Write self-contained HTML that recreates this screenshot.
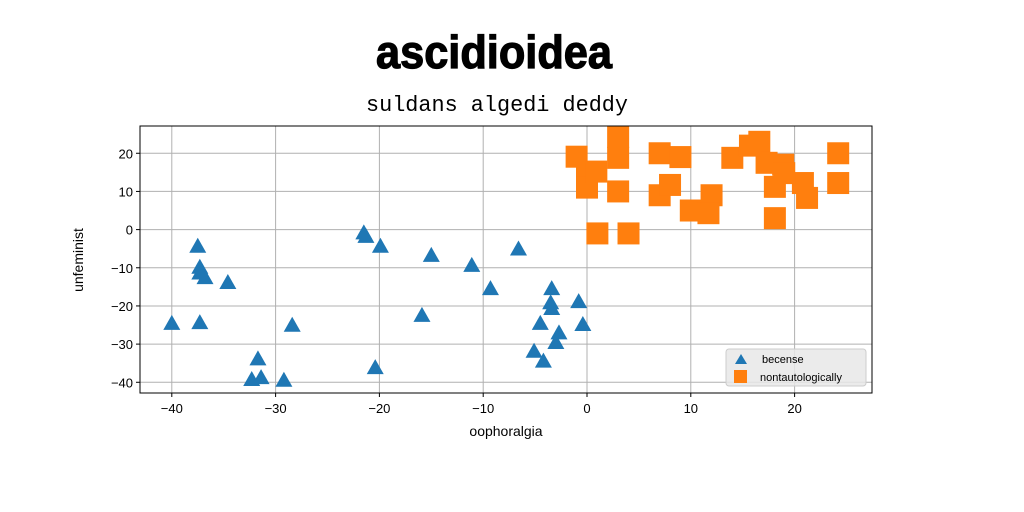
<!DOCTYPE html>
<html><head><meta charset="utf-8"><style>
html,body{margin:0;padding:0;background:#fff;}
svg{display:block;}
</style></head><body>
<svg id="chart" width="1024" height="512" xmlns="http://www.w3.org/2000/svg">
<defs><clipPath id="pc"><rect x="140" y="126" width="732" height="267"/></clipPath></defs>
<text x="494" y="68" font-family="'Liberation Sans Narrow','Liberation Sans',sans-serif" font-weight="bold" font-size="46" stroke="#000" stroke-width="1.2" text-anchor="middle" textLength="236" lengthAdjust="spacingAndGlyphs">ascidioidea</text>
<text x="497" y="111" font-family="'Liberation Mono',monospace" font-size="22" text-anchor="middle" textLength="262" lengthAdjust="spacingAndGlyphs">suldans algedi deddy</text>
<g id="grid"></g>
<g id="marks" clip-path="url(#pc)"></g>
<rect x="140" y="126" width="732" height="267" fill="none" stroke="#000" stroke-width="1"/>
<g id="axes"></g>
<text x="506" y="436" font-family="'Liberation Sans',sans-serif" font-size="14" text-anchor="middle">oophoralgia</text>
<text transform="translate(83,260) rotate(-90)" font-family="'Liberation Sans',sans-serif" font-size="14" text-anchor="middle">unfeminist</text>
<g>
<rect x="726" y="349" width="140" height="37" rx="3" fill="#e8e8e8" fill-opacity="0.85" stroke="#ccc"/>
<polygon points="741,354 747,364 735,364" fill="#1f77b4"/>
<text x="762" y="363" font-family="'Liberation Sans',sans-serif" font-size="11">becense</text>
<rect x="734" y="370" width="13" height="13" fill="#ff7f0e"/>
<text x="760" y="381" font-family="'Liberation Sans',sans-serif" font-size="11">nontautologically</text>
</g>
</svg>
<script>
const xTicks=[-40,-30,-20,-10,0,10,20];
const yTicks=[20,10,0,-10,-20,-30,-40];
const becenseX=[-37.5,-37.3,-37.3,-36.8,-34.6,-40,-37.3,-31.7,-32.3,-31.4,-29.2,-28.4,-21.5,-21.3,-19.9,-20.4,-15,-15.9,-11.1,-9.3,-6.6,-3.4,-3.5,-3.4,-4.5,-2.7,-3,-5.1,-4.2,-0.8,-0.4];
const becenseY=[-4.5,-10,-11.5,-12.7,-14,-24.7,-24.5,-34,-39.4,-38.9,-39.6,-25.2,-1,-1.9,-4.5,-36.3,-6.9,-22.6,-9.5,-15.6,-5.2,-15.6,-19.3,-20.8,-24.7,-27.2,-29.7,-32,-34.6,-19,-25];
const nontX=[-1,0,0,0.9,3,3,3,1,4,7,9,7,8,10,12,11.7,14,16.6,17.3,18.9,18.1,20.8,21.2,18.1,24.2,24.2,15.7,19];
const nontY=[19.1,14.3,11,15.2,24.3,18.8,10,-1,-1,20,19,9,11.7,5,9,4.3,18.8,23,17.5,17,11.2,12.2,8.3,3,20,12.2,22,14.8];
const NS='http://www.w3.org/2000/svg';
const sx=v=>587+v*10.38;
const sy=v=>229.6-v*3.817;
const grid=document.getElementById('grid'),axes=document.getElementById('axes'),marks=document.getElementById('marks');
function mk(t,a,p){const e=document.createElementNS(NS,t);for(const k in a)e.setAttribute(k,a[k]);p.appendChild(e);return e;}
xTicks.forEach(v=>{
 const g=mk('line',{x1:sx(v),x2:sx(v),y1:126,y2:393,stroke:'#b0b0b0','stroke-width':1},grid);
 
 
 const t=mk('line',{x1:sx(v),x2:sx(v),y1:393,y2:397,stroke:'#000'},axes);
 
 
 const l=mk('text',{x:sx(v),y:413,'font-family':"'Liberation Sans',sans-serif",'font-size':13,'text-anchor':'middle'},axes);
 l.textContent=String(v).replace('-','\u2212');
 
 
});
yTicks.forEach(v=>{
 const g=mk('line',{x1:140,x2:872,y1:sy(v),y2:sy(v),stroke:'#b0b0b0','stroke-width':1},grid);
 
 
 const t=mk('line',{x1:136,x2:140,y1:sy(v),y2:sy(v),stroke:'#000'},axes);
 
 
 const l=mk('text',{x:133,y:sy(v)+5,'font-family':"'Liberation Sans',sans-serif",'font-size':13,'text-anchor':'end'},axes);
 l.textContent=String(v).replace('-','\u2212');
 
 
});
becenseX.forEach((v,i)=>{
 const x=sx(v),y=sy(becenseY[i]);
 const p=mk('polygon',{points:`${x},${y-9} ${x+8.5},${y+6} ${x-8.5},${y+6}`,fill:'#1f77b4'},marks);
 
 
});
nontX.forEach((v,i)=>{
 const x=sx(v),y=sy(nontY[i]);
 const r=mk('rect',{x:x-11,y:y-11,width:22,height:22,fill:'#ff7f0e'},marks);
 
 
});
</script>
</body></html>
